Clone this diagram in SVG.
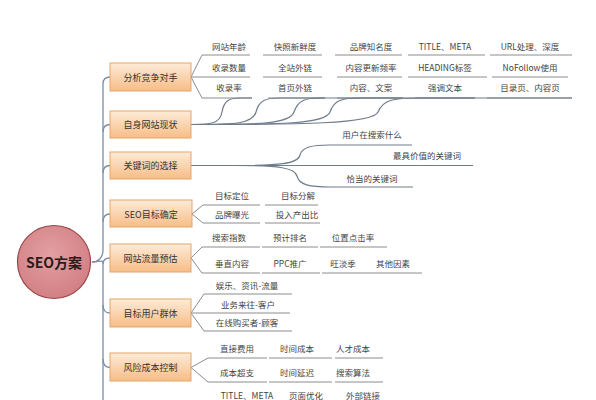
<svg xmlns="http://www.w3.org/2000/svg" width="596" height="400" viewBox="0 0 596 400">
<defs>
<linearGradient id="boxg" x1="0" y1="0" x2="0" y2="1">
<stop offset="0" stop-color="#fdebd8"/>
<stop offset="1" stop-color="#f7bd86"/>
</linearGradient>
<radialGradient id="circg" cx="0.45" cy="0.4" r="0.6">
<stop offset="0" stop-color="#e2a0a2"/>
<stop offset="1" stop-color="#d28084"/>
</radialGradient>
</defs>
<style>
.box{fill:url(#boxg);stroke:#e5a56a;stroke-width:1}
.bt{font-family:"Noto Sans CJK SC","Noto Sans",sans-serif;font-size:9px;fill:#333;text-anchor:middle;dominant-baseline:central}
.lt{font-family:"Noto Sans CJK SC","Noto Sans",sans-serif;font-size:8.5px;fill:#444;text-anchor:middle;dominant-baseline:central}
.ln{stroke:#8c8c8c;stroke-width:1;fill:none}
.tr{stroke:#7d8da3;stroke-width:1.3;fill:none}
.cv{stroke:#6f7c8c;stroke-width:1.2;fill:none}
</style>
<rect width="596" height="400" fill="#ffffff"/>
<g id="connectors">
<path class="tr" d="M92 262 C98 262,103 258,103 250 L103 84 Q103 77,110 77"/>
<path class="tr" d="M103 132 Q103 124.5,110 124.5"/>
<path class="tr" d="M103 173 Q103 165.5,110 165.5"/>
<path class="tr" d="M103 222 Q103 214,110 214"/>
<path class="tr" d="M92 262 C98 262,103 260,103 262 L103 400"/>
<path class="tr" d="M103 264 Q103 258,110 258"/>
<path class="tr" d="M103 305 Q103 313,110 313"/>
<path class="tr" d="M103 359 Q103 367.5,110 367.5"/>
<path class="ln" d="M191 77 L202 55 L250 55 M191 77 L250 77 M191 77 L202 98 L252 98"/>
<line class="ln" x1="263" y1="55" x2="322" y2="55"/><line class="ln" x1="335" y1="55" x2="402" y2="55"/><line class="ln" x1="408" y1="55" x2="485" y2="55"/><line class="ln" x1="490" y1="55" x2="572" y2="55"/>
<line class="ln" x1="263" y1="77" x2="322" y2="77"/><line class="ln" x1="337" y1="77" x2="402" y2="77"/><line class="ln" x1="408" y1="77" x2="487" y2="77"/><line class="ln" x1="492" y1="77" x2="568" y2="77"/>
<line class="ln" x1="268" y1="98" x2="325" y2="98"/><line class="ln" x1="337" y1="98" x2="403" y2="98"/><line class="ln" x1="415" y1="98" x2="475" y2="98"/><line class="ln" x1="487" y1="98" x2="572" y2="98"/>
<path class="cv" d="M191 124.5 C210 124.5,220 124,222 112 C224 100,230 98,240 98 L252 98"/>
<path class="cv" d="M191 124.5 C235 124.5,253 124,256 112 C259 100,266 98,280 98 L325 98"/>
<path class="cv" d="M191 124.5 C260 124.5,290 124,294 112 C298 100,306 98,320 98 L403 98"/>
<path class="cv" d="M191 124.5 C280 124.5,326 124,330 112 C334 100,342 98,360 98 L475 98"/>
<path class="cv" d="M191 124.5 C300 124.5,373 124,378 112 C383 100,392 98,420 98 L572 98"/>
<path class="cv" d="M191 165.5 L473 165.5"/>
<path class="cv" d="M230 165.5 C280 165.5,298 164,300 155 C302 147,312 145,330 145 L412 145"/>
<path class="cv" d="M235 165.5 C280 165.5,295 168,297 176 C299 185,310 187,330 187 L413 187"/>
<path class="ln" d="M192 214 L203 205 L260 205 M192 214 L203 223 L260 223"/>
<line class="ln" x1="265" y1="205" x2="318" y2="205"/><line class="ln" x1="265" y1="223" x2="320" y2="223"/>
<path class="ln" d="M191 258 L202 247 L260 247 M191 258 L202 273 L260 273"/>
<line class="ln" x1="262" y1="247" x2="318" y2="247"/><line class="ln" x1="320" y1="247" x2="387" y2="247"/>
<line class="ln" x1="262" y1="273" x2="320" y2="273"/><line class="ln" x1="322" y1="273" x2="422" y2="273"/>
<path class="ln" d="M191 313 L204 294 L292 294 M191 313 L290 313 M191 313 L204 331 L292 331"/>
<path class="ln" d="M191 367.5 L208 358 L267 358 M191 367.5 L208 382 L267 382"/>
<line class="ln" x1="269" y1="358" x2="332" y2="358"/><line class="ln" x1="335" y1="358" x2="383" y2="358"/>
<line class="ln" x1="269" y1="382" x2="332" y2="382"/><line class="ln" x1="335" y1="382" x2="383" y2="382"/>
</g>
<g id="root">
<circle cx="54" cy="262" r="36.5" fill="url(#circg)" stroke="#9c4448" stroke-width="1.2"/>
<text x="54" y="262" font-family="'Noto Sans CJK SC','Noto Sans',sans-serif" font-size="14" font-weight="bold" fill="#2b1b1b" text-anchor="middle" dominant-baseline="central">SEO方案</text>
</g>
<g id="n1"><rect class="box" x="110" y="63" width="81" height="28"/><text class="bt" x="150.5" y="77">分析竞争对手</text></g>
<g id="n2"><rect class="box" x="110" y="111" width="81" height="27"/><text class="bt" x="150.5" y="124.5">自身网站现状</text></g>
<g id="n3"><rect class="box" x="110" y="152" width="81" height="27"/><text class="bt" x="150.5" y="165.5">关键词的选择</text></g>
<g id="n4"><rect class="box" x="110" y="200" width="82" height="27"/><text class="bt" x="151" y="214">SEO目标确定</text></g>
<g id="n5"><rect class="box" x="110" y="244" width="81" height="28"/><text class="bt" x="150.5" y="258">网站流量预估</text></g>
<g id="n6"><rect class="box" x="110" y="299" width="81" height="28"/><text class="bt" x="150.5" y="313">目标用户群体</text></g>
<g id="n7"><rect class="box" x="110" y="353" width="81" height="28"/><text class="bt" x="150.5" y="367.5">风险成本控制</text></g>
<g id="leaves">
<text class="lt" x="229" y="46">网站年龄</text><text class="lt" x="295" y="46">快照新鲜度</text><text class="lt" x="371" y="46">品牌知名度</text><text class="lt" x="445" y="46">TITLE、META</text><text class="lt" x="530" y="46">URL处理、深度</text>
<text class="lt" x="229" y="67">收录数量</text><text class="lt" x="295" y="67">全站外链</text><text class="lt" x="371" y="67">内容更新频率</text><text class="lt" x="445" y="67">HEADING标签</text><text class="lt" x="530" y="67">NoFollow使用</text>
<text class="lt" x="229" y="87">收录率</text><text class="lt" x="295" y="87">首页外链</text><text class="lt" x="371" y="87">内容、文案</text><text class="lt" x="445" y="87">强调文本</text><text class="lt" x="530" y="87">目录页、内容页</text>
<text class="lt" x="372" y="134">用户在搜索什么</text>
<text class="lt" x="427" y="155">最具价值的关键词</text>
<text class="lt" x="372" y="178">恰当的关键词</text>
<text class="lt" x="232" y="195">目标定位</text><text class="lt" x="298" y="195">目标分解</text>
<text class="lt" x="232" y="214">品牌曝光</text><text class="lt" x="297" y="214">投入产出比</text>
<text class="lt" x="229" y="237">搜索指数</text><text class="lt" x="290" y="237">预计排名</text><text class="lt" x="353" y="237">位置点击率</text>
<text class="lt" x="232" y="263">垂直内容</text><text class="lt" x="290" y="263">PPC推广</text><text class="lt" x="343" y="263">旺淡季</text><text class="lt" x="393" y="263">其他因素</text>
<text class="lt" x="247" y="285">娱乐、资讯-流量</text>
<text class="lt" x="248" y="304">业务来往-客户</text>
<text class="lt" x="247" y="322">在线购买者-顾客</text>
<text class="lt" x="237" y="348">直接费用</text><text class="lt" x="297" y="348">时间成本</text><text class="lt" x="353" y="348">人才成本</text>
<text class="lt" x="237" y="372">成本超支</text><text class="lt" x="297" y="372">时间延迟</text><text class="lt" x="353" y="372">搜索算法</text>
<text class="lt" x="247" y="394.5">TITLE、META</text><text class="lt" x="306" y="394.5">页面优化</text><text class="lt" x="363" y="394.5">外部链接</text>
</g>
</svg>
